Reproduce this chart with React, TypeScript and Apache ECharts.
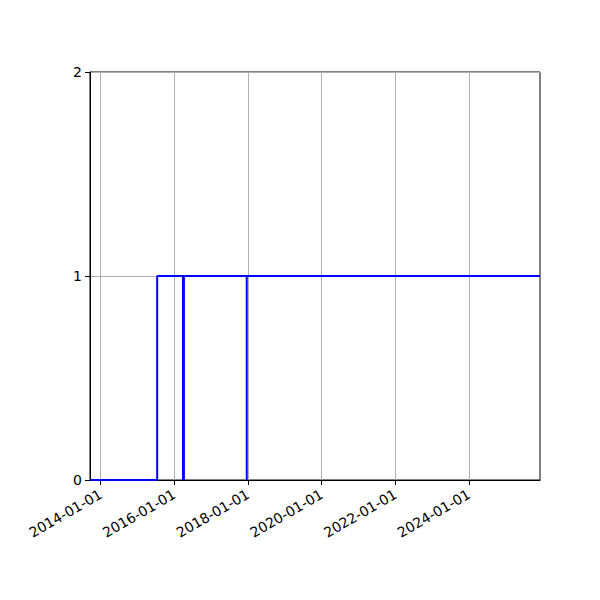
import React, { useRef, useEffect } from 'react';
import * as echarts from 'echarts';

// step trace: vertical drops to 0 and back show up as spikes
const pointDates = [
    '2013-09-18', '2015-07-16', '2015-07-16',
    '2016-03-28', '2016-03-28', '2016-03-28',
    '2016-04-06', '2016-04-06', '2016-04-06',
    '2017-12-20', '2017-12-20', '2017-12-20',
    '2025-12-05'
];
const pointValues = [0, 0, 1, 1, 0, 1, 1, 0, 1, 1, 0, 1, 1];

const xTickDates = ['2014-01-01', '2016-01-01', '2018-01-01', '2020-01-01', '2022-01-01', '2024-01-01'];
const xRange = ['2013-09-18', '2025-12-05'];
const yTicks = [0, 1, 2];

const ts = (d: string) => Date.parse(d + 'T00:00:00Z');

const App: React.FC = () => {
    const chartRef = useRef<HTMLDivElement>(null);

    useEffect(() => {
        if (!chartRef.current) return;
        const chart = echarts.init(chartRef.current, null, { renderer: 'svg' });

        const font = { fontFamily: 'DejaVu Sans', fontSize: 14, color: '#000' };

        // value axis holding timestamps, so custom tick positions work
        const option: echarts.EChartsOption = {
            animation: false,
            backgroundColor: '#fff',
            grid: {
                left: 90,
                right: 60,
                top: 72,
                bottom: 120,
                show: true,
                borderColor: '#000',
                borderWidth: 1,
                backgroundColor: 'transparent'
            },
            xAxis: {
                type: 'value',
                min: ts(xRange[0]),
                max: ts(xRange[1]),
                axisLine: { show: true, onZero: false, lineStyle: { color: '#000', width: 1 } },
                axisTick: {
                    show: true,
                    length: 5,
                    lineStyle: { color: '#000' },
                    customValues: xTickDates.map(ts)
                },
                axisLabel: {
                    ...font,
                    rotate: 30,
                    margin: 13,
                    customValues: xTickDates.map(ts),
                    formatter: (v: number) => new Date(v).toISOString().slice(0, 10)
                },
                splitLine: { show: true, lineStyle: { color: '#b0b0b0', width: 1 } }
            },
            yAxis: {
                type: 'value',
                min: yTicks[0],
                max: yTicks[yTicks.length - 1],
                interval: 1,
                axisLine: { show: true, lineStyle: { color: '#000', width: 1 } },
                axisTick: { show: true, length: 5, lineStyle: { color: '#000' } },
                axisLabel: { ...font, margin: 8 },
                splitLine: { show: true, lineStyle: { color: '#b0b0b0', width: 1 } }
            },
            series: [
                {
                    type: 'line',
                    data: pointDates.map((d, i) => [ts(d), pointValues[i]]),
                    showSymbol: false,
                    lineStyle: { color: '#0000ff', width: 2 },
                    itemStyle: { color: '#0000ff' },
                    clip: true
                }
            ]
        };

        chart.setOption(option);
        return () => {
            chart.dispose();
        };
    }, []);

    return (
        <div
            ref={chartRef}
            style={{ position: 'absolute', left: 0, top: 0, width: 600, height: 600 }}
        />
    );
};

export default App;
